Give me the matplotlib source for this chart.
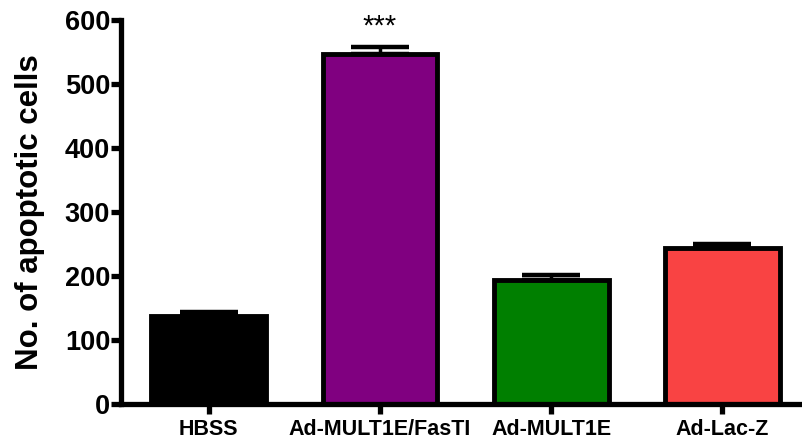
import matplotlib
matplotlib.use('Agg')
import matplotlib.pyplot as plt
import numpy as np

groups = ['HBSS', 'Ad-MULT1E/FasTI', 'Ad-MULT1E', 'Ad-Lac-Z']
means = [137, 547, 194, 244]
sem = [6, 11, 8, 6]
colors = ['#000000', '#800080', '#007F00', '#F94343']
yticks = [0, 100, 200, 300, 400, 500, 600]

plt.rcParams['font.family'] = ['Liberation Sans', 'DejaVu Sans']

fig = plt.figure(figsize=(8.03, 4.43), dpi=100)
ax = fig.add_axes([0.151, 0.088, 0.849, 0.867])

x = np.arange(len(groups))
ax.bar(x, means, width=0.67, color=colors, edgecolor='black', linewidth=3.5, zorder=2)
ax.errorbar(x, means, yerr=[np.zeros(len(sem)), sem], fmt='none', ecolor='black',
            elinewidth=2.5, capsize=21, capthick=3.2, zorder=3)

# significance marker over the FasTI group
ax.text(x[1], means[1] + sem[1] + 10, '***', ha='center', va='bottom', fontsize=21)

ax.set_xlim(-0.51, 3.47)
ax.set_ylim(0, 600)
ax.set_yticks(yticks)
ax.set_xticks(x)
ax.set_xticklabels(groups, fontsize=15.5, fontweight='bold')
ax.tick_params(axis='y', labelsize=19.5, width=3.8, length=7, pad=1)
ax.tick_params(axis='x', width=3.8, length=7, pad=4)
for lbl in ax.get_yticklabels():
    lbl.set_fontweight('bold')

ax.set_ylabel('No. of apoptotic cells', fontsize=22.5, fontweight='bold', labelpad=14)

ax.spines['top'].set_visible(False)
ax.spines['right'].set_visible(False)
ax.spines['left'].set_linewidth(3.8)
ax.spines['bottom'].set_linewidth(3.8)
ax.spines['left'].set_capstyle('projecting')
ax.spines['bottom'].set_capstyle('projecting')

fig.savefig('out.png', dpi=100)
